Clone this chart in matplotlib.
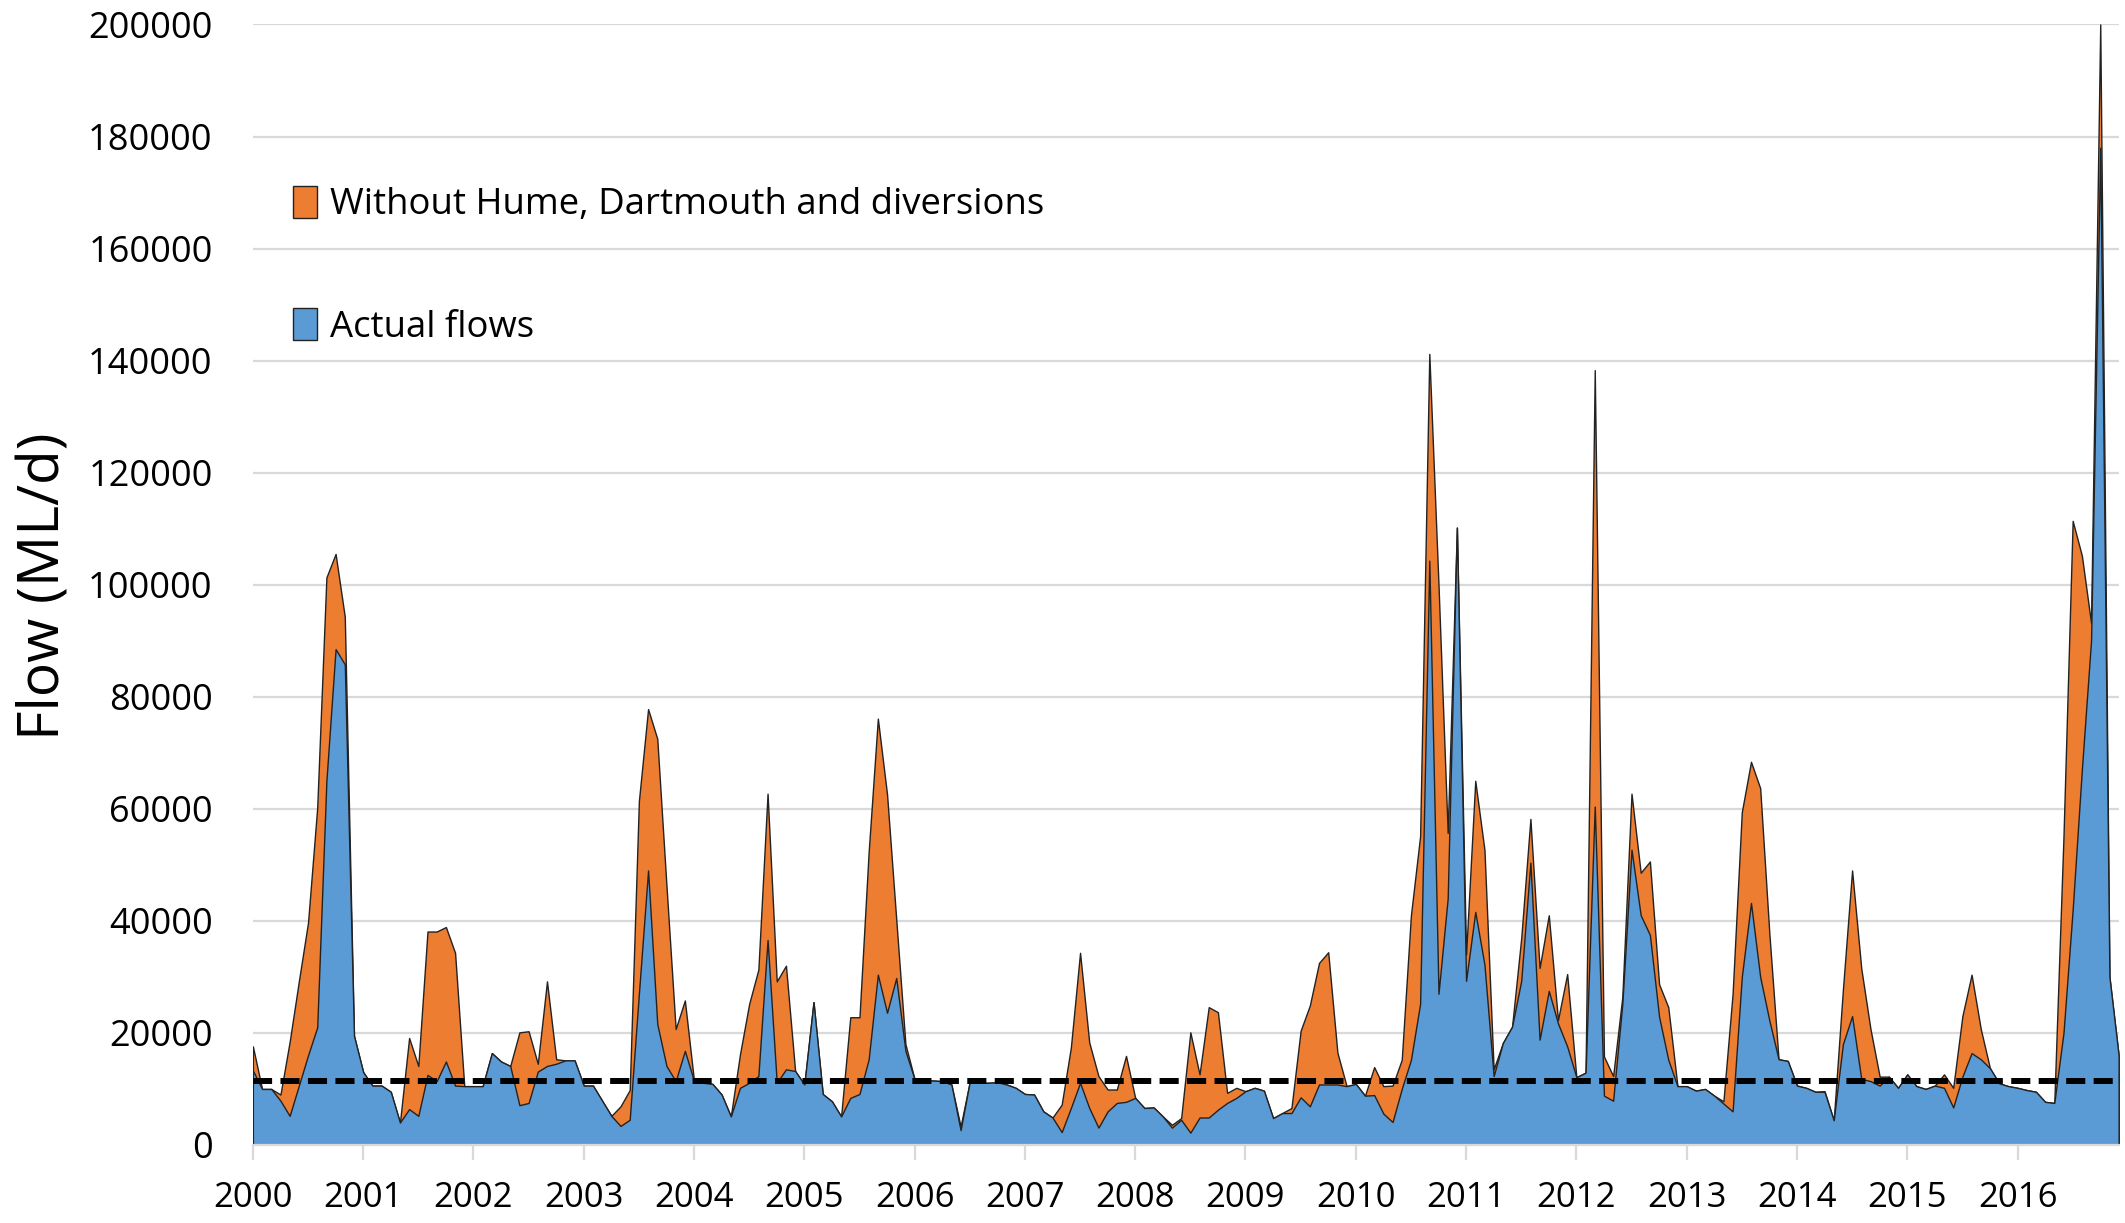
import numpy as np
import matplotlib.pyplot as plt
from matplotlib.patches import Patch

plt.rcParams['font.family'] = ['Open Sans', 'DejaVu Sans']

# monthly flows (ML/d), Jan 2000 .. Dec 2016
actual = [
    13300, 10000, 10000, 7900, 5200, 10600, 16000, 21000, 65000, 88500, 85800, 19500,   # 2000
    13000, 10600, 10600, 9500, 4000, 6400, 5200, 12500, 11400, 14900, 10600, 10500,     # 2001
    10500, 10500, 16400, 14900, 14100, 7100, 7500, 13100, 14100, 14500, 15100, 15100,   # 2002
    10600, 10600, 7900, 5200, 3400, 4500, 27000, 49000, 21600, 14100, 11400, 16800,     # 2003
    11400, 11100, 10900, 9000, 5100, 10200, 11100, 12300, 36600, 11100, 13500, 13200,   # 2004
    10800, 25500, 9100, 7800, 5100, 8400, 9100, 15300, 30400, 23600, 29800, 16800,      # 2005
    11700, 11500, 11500, 11400, 10800, 2650, 11300, 11100, 11100, 11200, 10800, 10200,  # 2006
    9100, 9000, 6000, 4900, 2300, 6600, 11100, 6600, 3100, 6000, 7500, 7700,            # 2007
    8400, 6600, 6700, 5100, 3100, 4500, 2200, 4900, 4900, 6300, 7500, 8400,             # 2008
    9600, 10200, 9700, 4800, 5700, 5700, 8500, 6900, 10800, 10800, 10800, 10500,        # 2009
    10900, 8800, 8900, 5600, 4100, 10000, 15200, 25200, 104300, 27000, 44000, 110200,   # 2010
    29300, 41600, 32200, 12300, 18200, 21100, 29300, 50400, 18800, 27500, 21700, 17600, # 2011
    12100, 12900, 60400, 8800, 7900, 25200, 52700, 41000, 37500, 22900, 15200, 10500,   # 2012
    10500, 9700, 10000, 8800, 7400, 6000, 30000, 43200, 30000, 22200, 15300, 15000,     # 2013
    10600, 10200, 9500, 9500, 4400, 18000, 23000, 11800, 11400, 10600, 12200, 10200,    # 2014
    12600, 10500, 10000, 10600, 10200, 6700, 12200, 16400, 15300, 13700, 11000, 10500,  # 2015
    10200, 9800, 9500, 7700, 7500, 20000, 42000, 67000, 90000, 178000, 30000, 16000,    # 2016
]

without_storages = [
    17600, 10000, 10000, 9000, 18400, 29200, 39700, 60200, 101300, 105500, 94300, 19500,  # 2000
    13000, 10600, 10600, 9500, 4000, 19100, 14100, 38100, 38100, 38900, 34300, 10500,      # 2001
    10500, 10500, 16400, 14900, 14100, 20100, 20300, 14500, 29200, 15300, 15100, 15100,    # 2002
    10600, 10600, 7900, 5200, 6900, 9800, 61400, 77800, 72500, 46300, 20700, 25800,        # 2003
    11400, 11100, 10900, 9000, 5100, 16200, 25200, 31300, 62700, 29200, 32000, 13200,      # 2004
    10800, 25500, 9100, 7800, 5100, 22800, 22800, 52300, 76100, 62600, 40300, 18000,       # 2005
    11700, 11500, 11500, 11400, 10800, 3300, 11300, 11100, 11100, 11200, 10800, 10200,     # 2006
    9100, 9000, 6000, 4900, 7200, 17400, 34300, 18300, 12300, 9900, 9900, 15900,           # 2007
    8400, 6600, 6700, 5100, 3600, 4800, 20100, 12600, 24600, 23700, 9300, 10200,           # 2008
    9600, 10200, 9700, 4800, 5700, 6600, 20400, 24900, 32500, 34400, 16500, 10500,         # 2009
    10900, 8800, 13900, 10500, 10600, 15200, 41000, 55100, 141200, 100000, 55700, 110200,  # 2010
    34000, 65000, 52700, 13500, 18200, 21100, 36900, 58200, 31600, 41000, 22300, 30500,    # 2011
    12100, 12900, 138300, 15800, 12300, 26400, 62700, 48600, 50600, 28700, 24600, 10500,   # 2012
    10500, 9700, 10000, 8800, 7800, 27000, 59400, 68400, 63700, 37700, 15300, 15000,       # 2013
    10600, 10200, 9500, 9600, 4400, 27700, 49000, 31500, 20700, 12200, 12200, 10200,       # 2014
    12600, 10500, 10000, 10600, 12600, 10200, 23000, 30400, 20700, 13700, 11000, 10500,    # 2015
    10200, 9800, 9500, 7700, 7500, 55000, 111400, 105200, 93200, 200000, 30000, 16000,     # 2016
]

threshold = 11500
years = list(range(2000, 2017))

t = 2000 + np.arange(len(actual)) / 12.0

fig = plt.figure(figsize=(21.25, 12.23), dpi=100)
ax = fig.add_axes([0.119, 0.0638, 0.878, 0.9162])

orange = '#ED7D31'
blue = '#5B9BD5'
grid_c = '#D9D9D9'

ax.fill_between(t, 0, without_storages, facecolor=orange, edgecolor='#222222', linewidth=1.0, zorder=2)
ax.fill_between(t, 0, actual, facecolor=blue, edgecolor='#222222', linewidth=1.0, zorder=3)
ax.axhline(threshold, color='black', linewidth=4.3, dashes=(3.2, 1.4), zorder=4)

ax.set_xlim(t[0], t[-1])
ax.set_ylim(0, 200000)
ax.set_yticks(np.arange(0, 200001, 20000))
ax.set_xticks(years)
ax.set_xticklabels([str(y) for y in years])

ax.grid(axis='y', color=grid_c, linewidth=1.6, zorder=0)
ax.set_axisbelow(True)
for s in ['top', 'right', 'left']:
    ax.spines[s].set_visible(False)
ax.spines['bottom'].set_color(grid_c)
ax.spines['bottom'].set_linewidth(1.6)
ax.spines['bottom'].set_zorder(5)

ax.tick_params(axis='x', direction='out', length=11, width=1.6, color=grid_c,
               labelsize=25, pad=15)
ax.tick_params(axis='y', length=0, labelsize=26, pad=29)

fig.text(0.021, 0.521, 'Flow (ML/d)', rotation=90, ha='center', va='center', fontsize=41)

handles = [Patch(facecolor=orange, edgecolor='#222222', linewidth=1.0),
           Patch(facecolor=blue, edgecolor='#222222', linewidth=1.0)]
ax.legend(handles, ['Without Hume, Dartmouth and diversions', 'Actual flows'],
          loc='upper left', bbox_to_anchor=(0.0214, 0.856), frameon=False,
          fontsize=26.3, handlelength=0.66, handleheight=0.98, handletextpad=0.35,
          labelspacing=2.32, borderpad=0, borderaxespad=0)

fig.savefig('out.png', dpi=100)
